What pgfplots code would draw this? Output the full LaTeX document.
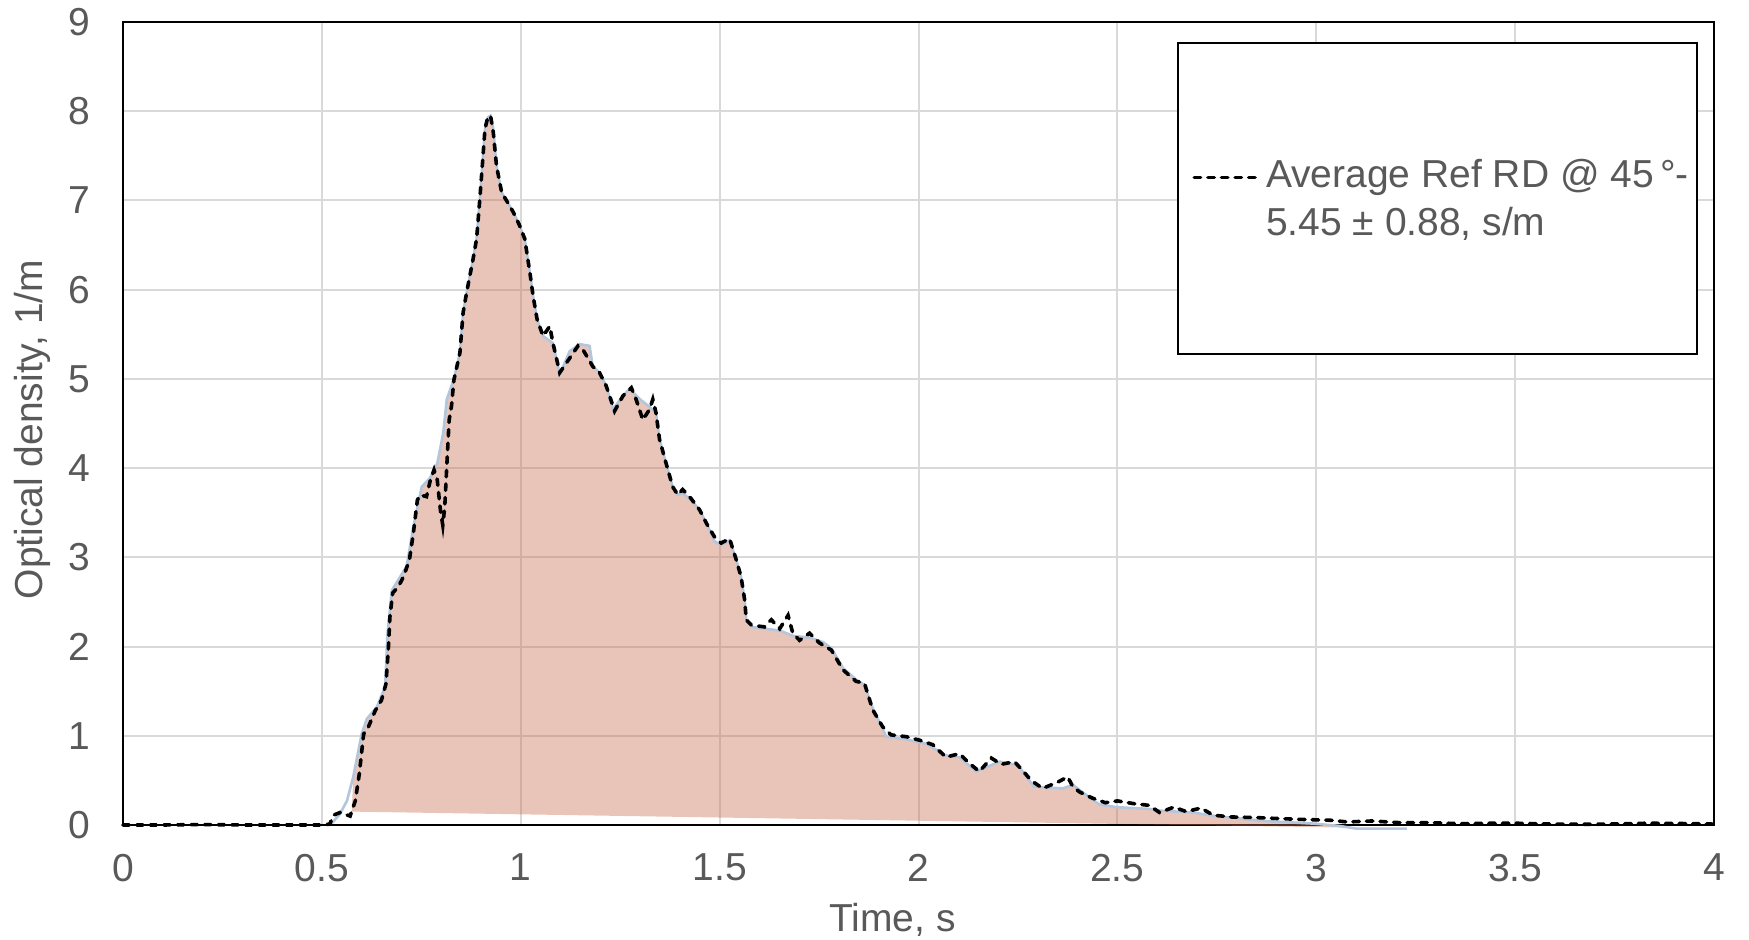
\documentclass[border=0pt]{standalone}
\usepackage{fontspec}
\setmainfont{Liberation Sans}
\usepackage{pgfplots}
\pgfplotsset{compat=1.18}
\usepackage{pgfplotstable}

\definecolor{labelgray}{RGB}{89,89,89}
\definecolor{gridgray}{RGB}{217,217,217}
\definecolor{bandfill}{RGB}{200,110,80}
\definecolor{bandedge}{RGB}{180,198,220}

\pgfplotsset{
  avg legend/.style={
    legend image code/.code={\path (0pt,0pt); \draw[##1] (3pt,10.5pt) -- (35pt,10.5pt);}
  }
}

% average optical density (dashed)
\pgfplotstableread{
x y
0 0
0.1 0
0.2 0.005
0.3 0
0.4 0
0.5 0
0.52 0.01
0.529 0.11
0.546 0.14
0.571 0.10
0.584 0.27
0.594 0.57
0.605 1.02
0.617 1.10
0.634 1.28
0.650 1.40
0.661 1.58
0.667 1.96
0.671 2.33
0.678 2.60
0.692 2.67
0.705 2.78
0.720 2.97
0.730 3.27
0.740 3.64
0.747 3.70
0.763 3.68
0.773 3.87
0.782 3.98
0.790 3.87
0.798 3.53
0.804 3.36
0.809 3.57
0.814 4.02
0.820 4.54
0.826 4.70
0.832 4.99
0.847 5.29
0.855 5.74
0.864 5.97
0.880 6.34
0.889 6.57
0.897 7.01
0.904 7.43
0.910 7.80
0.917 7.93
0.924 7.95
0.931 7.76
0.939 7.39
0.952 7.09
0.964 7.00
0.981 6.87
0.997 6.72
1.010 6.57
1.023 6.19
1.031 5.93
1.041 5.67
1.056 5.48
1.073 5.59
1.081 5.40
1.098 5.07
1.115 5.18
1.144 5.37
1.156 5.33
1.181 5.14
1.198 5.07
1.215 4.92
1.236 4.64
1.257 4.81
1.278 4.90
1.290 4.77
1.307 4.54
1.324 4.66
1.332 4.77
1.340 4.62
1.349 4.32
1.365 4.06
1.382 3.79
1.395 3.70
1.407 3.76
1.428 3.66
1.450 3.53
1.467 3.38
1.487 3.23
1.504 3.16
1.525 3.21
1.542 2.97
1.554 2.78
1.563 2.52
1.567 2.30
1.580 2.24
1.613 2.22
1.630 2.30
1.651 2.20
1.672 2.35
1.684 2.15
1.701 2.07
1.726 2.15
1.751 2.04
1.781 1.96
1.810 1.74
1.843 1.61
1.864 1.59
1.885 1.29
1.910 1.10
1.931 1.01
1.969 0.99
2.003 0.95
2.036 0.90
2.069 0.76
2.103 0.80
2.128 0.69
2.153 0.60
2.183 0.75
2.208 0.68
2.241 0.71
2.262 0.61
2.283 0.50
2.312 0.41
2.350 0.48
2.375 0.54
2.388 0.43
2.405 0.37
2.438 0.30
2.470 0.25
2.500 0.27
2.540 0.24
2.580 0.22
2.606 0.14
2.642 0.20
2.673 0.15
2.710 0.19
2.741 0.11
2.787 0.09
2.850 0.083
2.890 0.075
2.953 0.064
3.036 0.053
3.078 0.034
3.140 0.045
3.210 0.026
3.285 0.026
3.360 0.015
3.430 0.019
3.500 0.020
3.600 0.010
3.700 0.008
3.835 0.020
3.950 0.015
4.000 0.010
}\avgdata

% upper envelope of the band
\pgfplotstableread{
x y
0.525 0.02
0.545 0.12
0.563 0.27
0.579 0.54
0.600 1.02
0.613 1.19
0.638 1.32
0.659 1.55
0.665 2.15
0.676 2.63
0.713 2.90
0.730 3.34
0.751 3.79
0.772 3.89
0.790 4.05
0.805 4.39
0.814 4.77
0.832 5.00
0.847 5.29
0.855 5.74
0.864 5.97
0.880 6.34
0.889 6.57
0.897 7.01
0.904 7.43
0.910 7.80
0.917 7.93
0.924 7.95
0.931 7.80
0.939 7.39
0.952 7.09
0.964 7.00
0.981 6.87
0.997 6.72
1.010 6.57
1.023 6.19
1.031 5.93
1.041 5.67
1.056 5.48
1.081 5.40
1.098 5.05
1.123 5.31
1.148 5.39
1.173 5.37
1.181 5.14
1.198 5.07
1.215 4.92
1.232 4.66
1.257 4.81
1.274 4.89
1.300 4.77
1.320 4.70
1.340 4.62
1.349 4.32
1.365 4.06
1.382 3.79
1.395 3.70
1.407 3.72
1.428 3.64
1.450 3.53
1.467 3.38
1.487 3.18
1.504 3.14
1.525 3.19
1.542 2.97
1.554 2.78
1.563 2.52
1.567 2.30
1.580 2.22
1.613 2.20
1.651 2.18
1.684 2.12
1.726 2.10
1.760 2.05
1.781 1.98
1.810 1.76
1.843 1.63
1.864 1.57
1.885 1.31
1.919 0.99
1.969 0.96
2.019 0.91
2.069 0.78
2.103 0.76
2.145 0.60
2.204 0.71
2.250 0.67
2.290 0.43
2.363 0.41
2.388 0.45
2.438 0.28
2.455 0.23
2.497 0.20
2.580 0.18
2.610 0.16
2.690 0.14
2.746 0.10
2.870 0.045
2.995 0.015
3.057 -0.01
3.100 -0.04
3.228 -0.04
}\envdata

% filled band outline
\pgfplotstableread{
x y
0.575 0.15
0.579 0.54
0.600 1.02
0.613 1.19
0.638 1.32
0.659 1.55
0.665 2.15
0.676 2.63
0.713 2.90
0.730 3.34
0.751 3.79
0.772 3.89
0.790 4.05
0.805 4.39
0.814 4.77
0.832 5.00
0.847 5.29
0.855 5.74
0.864 5.97
0.880 6.34
0.889 6.57
0.897 7.01
0.904 7.43
0.910 7.80
0.917 7.93
0.924 7.95
0.931 7.80
0.939 7.39
0.952 7.09
0.964 7.00
0.981 6.87
0.997 6.72
1.010 6.57
1.023 6.19
1.031 5.93
1.041 5.67
1.056 5.48
1.081 5.40
1.098 5.05
1.123 5.31
1.148 5.39
1.173 5.37
1.181 5.14
1.198 5.07
1.215 4.92
1.232 4.66
1.257 4.81
1.274 4.89
1.300 4.77
1.320 4.70
1.340 4.62
1.349 4.32
1.365 4.06
1.382 3.79
1.395 3.70
1.407 3.72
1.428 3.64
1.450 3.53
1.467 3.38
1.487 3.18
1.504 3.14
1.525 3.19
1.542 2.97
1.554 2.78
1.563 2.52
1.567 2.30
1.580 2.22
1.613 2.20
1.651 2.18
1.684 2.12
1.726 2.10
1.760 2.05
1.781 1.98
1.810 1.76
1.843 1.63
1.864 1.57
1.885 1.31
1.919 0.99
1.969 0.96
2.019 0.91
2.069 0.78
2.103 0.76
2.145 0.60
2.204 0.71
2.250 0.67
2.290 0.43
2.363 0.41
2.388 0.45
2.438 0.28
2.455 0.23
2.497 0.20
2.580 0.18
2.610 0.16
2.690 0.14
2.746 0.10
2.870 0.045
2.995 0.015
3.057 -0.01
3.100 -0.04
3.228 -0.04
}\banddata

\newcommand{\chartfont}{\fontsize{19.5}{24}\selectfont}

\begin{document}
\begin{tikzpicture}
\useasboundingbox (0,0) rectangle (874.5pt,470pt);
\begin{axis}[
  scale only axis,
  width=795.5pt, height=401.5pt,
  at={(61.5pt,57.5pt)}, anchor=south west,
  xmin=0, xmax=4, ymin=0, ymax=9,
  xtick={0,0.5,...,4}, ytick={0,1,...,9},
  clip=false,
  grid=major,
  major grid style={draw=gridgray, line width=1pt},
  major tick length=0pt,
  tick style={draw=none},
  axis line style={line width=1pt, black},
  /pgf/number format/assume math mode=true,
  ticklabel style={font=\chartfont, text=labelgray},
  xticklabel style={yshift=-11pt},
  yticklabel style={xshift=-13pt},
  xlabel={Time, s},
  ylabel={Optical density, 1/m},
  label style={font=\chartfont, text=labelgray},
  xlabel style={at={(axis description cs:0.4836,-0.1325)}, anchor=base},
  ylabel style={at={(axis description cs:-0.057,0.4925)}, anchor=center},
  legend cell align=left,
  legend style={at={(rel axis cs:0.6625,0.9751)}, anchor=north west,
    draw=black, line width=1pt, fill=white,
    inner xsep=4.2pt, inner ysep=58pt,
    font=\chartfont, text=labelgray,
    nodes={inner sep=0pt}, column sep=3pt,
    cells={align=left}},
]
% band: filled area and its upper edge
\addplot[forget plot, draw=none, fill=bandfill, fill opacity=0.4]
  table[x=x, y=y] {\banddata} -- cycle;
\addplot[forget plot, bandedge, line width=1.3pt]
  table[x=x, y=y] {\envdata};

% average curve
\addplot[black, line width=1.8pt, line cap=round, dash pattern=on 3.2pt off 3.6pt,
  avg legend]
  table[x=x, y=y] {\avgdata};
\addlegendentry{Average Ref RD @ 45\,°-\\5.45 ± 0.88, s/m}
\end{axis}
\end{tikzpicture}
\end{document}
